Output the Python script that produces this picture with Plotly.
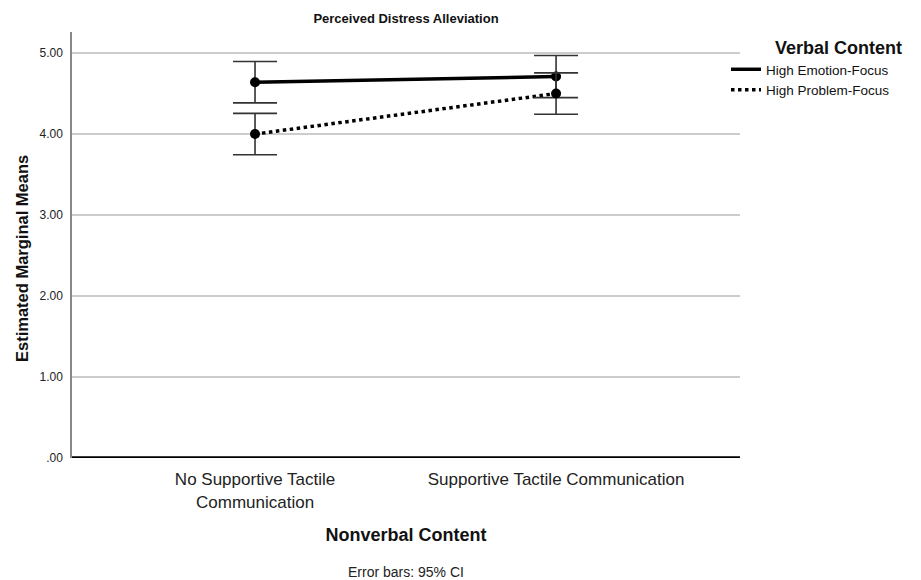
import plotly.graph_objects as go

categories = ["No Supportive Tactile<br>Communication", "Supportive Tactile Communication"]
series_names = ["High Emotion-Focus", "High Problem-Focus"]
emotion_means = [4.64, 4.71]
emotion_ci = [0.255, 0.26]
problem_means = [4.00, 4.50]
problem_ci = [0.255, 0.255]
y_ticks = [0, 1, 2, 3, 4, 5]
y_tick_labels = [".00", "1.00", "2.00", "3.00", "4.00", "5.00"]

FONT = "Arial, 'Liberation Sans', sans-serif"
xpos = list(range(len(categories)))

# plot area in pixels
L, R, T, B = 72, 740, 32, 458
W, H = R - L, B - T

fig = go.Figure()
styles = [("solid", emotion_means, emotion_ci), ("dot", problem_means, problem_ci)]
for name, (dash, means, ci) in zip(series_names, styles):
    fig.add_trace(go.Scatter(
        x=xpos, y=means, mode="lines", name=name,
        line=dict(color="black", width=3.5, dash=dash),
    ))
for name, (dash, means, ci) in zip(series_names, styles):
    fig.add_trace(go.Scatter(
        x=xpos, y=means, mode="markers", showlegend=False,
        marker=dict(color="black", size=10),
        error_y=dict(type="data", array=ci, visible=True, color="#333333",
                     thickness=1.6, width=22),
    ))

fig.update_layout(
    width=921, height=580,
    margin=dict(l=L, r=921 - R, t=T, b=580 - B),
    paper_bgcolor="white", plot_bgcolor="white",
    font=dict(family=FONT, color="#111111"),
    title=dict(text="<b>Perceived Distress Alleviation</b>", x=406/921, xanchor="center",
               y=1 - 18/580, yanchor="middle", font=dict(size=13)),
    showlegend=True,
    legend=dict(
        x=(726 - L) / W, xanchor="left", y=1 - (54 - T) / H, yanchor="top",
        font=dict(size=13.5), bgcolor="rgba(0,0,0,0)",
        itemwidth=30, tracegroupgap=0,
    ),
    xaxis=dict(
        range=[-0.608, 1.611], tickmode="array", tickvals=xpos, ticktext=categories,
        showgrid=False, zeroline=False, showline=False,
        ticks="outside", ticklen=6, tickcolor="rgba(0,0,0,0)",
        tickfont=dict(size=17, color="#222222"),
        title=dict(text="<b>Nonverbal Content</b>", font=dict(size=18), standoff=17),
    ),
    yaxis=dict(
        range=[0, 5.26], tickmode="array", tickvals=y_ticks, ticktext=y_tick_labels,
        showgrid=True, gridcolor="#cccccc", gridwidth=1.5, zeroline=False,
        showline=True, linecolor="#888888", linewidth=1.5,
        ticks="outside", ticklen=5, tickcolor="rgba(0,0,0,0)",
        tickfont=dict(size=12, color="#222222"),
    ),
    shapes=[dict(type="line", xref="paper", yref="y", x0=0, x1=1, y0=0, y1=0,
                 line=dict(color="black", width=3.5))],
    annotations=[
        dict(text="Error bars: 95% CI", xref="paper", yref="paper",
             x=(406 - L) / W, y=-(572 - B) / H, xanchor="center",
             yanchor="middle", showarrow=False, font=dict(size=14, color="#222222")),
        dict(text="<b>Estimated Marginal Means</b>", xref="paper", yref="paper",
             x=(22 - L) / W, y=1 - (259 - T) / H, xanchor="center", yanchor="middle",
             textangle=-90, showarrow=False, font=dict(size=16.5, color="#111111")),
        dict(text="<b>Verbal Content</b>", xref="paper", yref="paper",
             x=(838 - L) / W, y=1 - (48 - T) / H, xanchor="center", yanchor="middle",
             showarrow=False, font=dict(size=18, color="#111111")),
    ],
)

fig.write_html("out.html", config={"displayModeBar": False},
               post_script="document.body.style.margin='0';document.body.style.padding='0';")
